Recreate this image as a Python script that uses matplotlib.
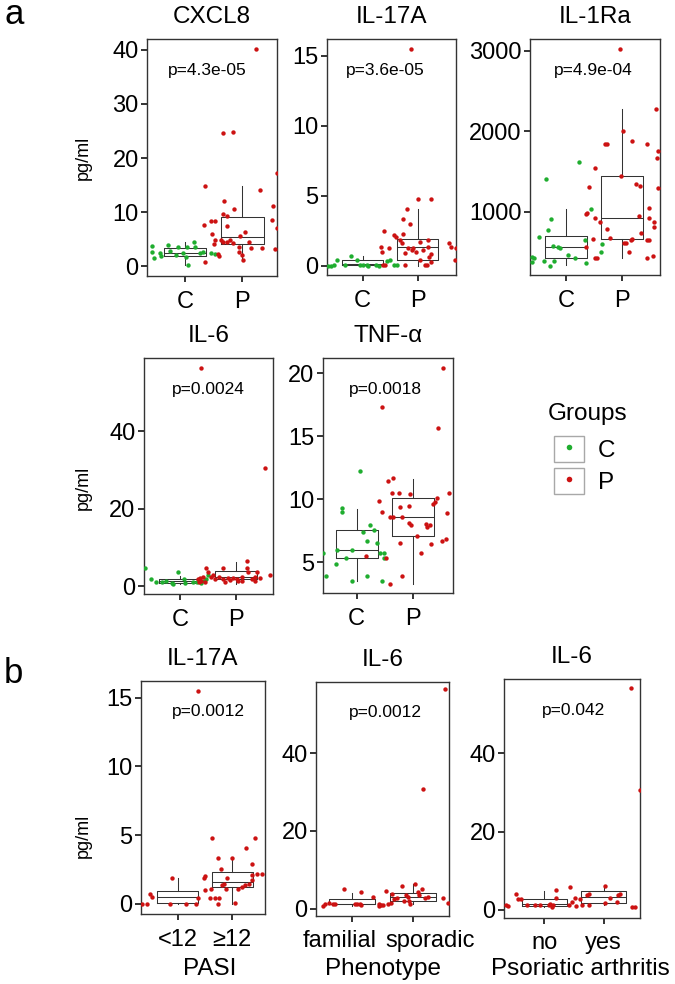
import matplotlib
matplotlib.use("Agg")
import matplotlib.pyplot as plt
from matplotlib.patches import Rectangle
from matplotlib.lines import Line2D
from matplotlib.legend_handler import HandlerTuple
from matplotlib.transforms import ScaledTranslation

plt.rcParams['font.family'] = ['Liberation Sans', 'DejaVu Sans']

GREEN = '#1fad2f'
RED = '#cc1212'
EDGE = '#333333'

# ---- data (x = jittered category position, y = pg/ml) ----
cxcl8_c_x = [0.43, 0.43, 0.46, 0.56, 0.58, 0.71, 0.74, 0.84, 0.88, 1.01, 1.03, 1.06, 1.16, 1.17, 1.32, 1.45, 1.52, 0.97, 1.26]
cxcl8_c_y = [3.76, 2.65, 1.54, 2.46, 1.85, 3.83, 2.83, 1.98, 3.52, 1.72, 3.57, 0.2, 4.5, 3.57, 2.65, 2.46, 2.22, 2.35, 2.35]
cxcl8_p_x = [1.67, 1.84, 2.24, 2.6, 1.35, 2.31, 1.68, 2.54, 1.86, 1.67, 1.74, 1.34, 1.45, 1.52, 1.74, 2.52, 2.61,
             1.47, 1.53, 1.51, 1.63, 1.67, 1.73, 1.79, 1.84, 1.96, 2.05, 1.95, 1.95, 1.99, 2.02, 2.12, 2.16, 2.34,
             2.57, 1.57, 1.6, 1.35]
cxcl8_p_y = [24.6, 24.8, 40.1, 17.2, 14.8, 14.1, 12.1, 11.2, 10.5, 9.6, 9.26, 7.6, 8.3, 8.3, 7.5, 8.5, 7.0,
             5.9, 4.9, 4.0, 4.9, 4.5, 4.5, 4.9, 4.2, 5.55, 6.35, 3.6, 2.65, 2.0, 1.1, 4.5, 3.3, 3.3,
             3.15, 2.2, 1.85, 0.8]
cxcl8_box = [[0.2, 1.85, 2.46, 3.4, 4.5], [0.93, 4.0, 5.3, 9.1, 14.8]]

il17_c_x = [0.37, 0.42, 0.47, 0.53, 0.68, 0.79, 0.9, 0.95, 1.01, 1.07, 1.1, 1.24, 1.3, 1.45, 1.5, 1.56, 1.62]
il17_c_y = [0.0, 0.0, 0.05, 0.41, 0.05, 0.69, 0.41, 0.05, 0.05, 0.05, 0.0, 0.05, 0.0, 0.35, 0.41, 0.05, 0.05]
il17_p_x = [1.87, 1.8, 2.01, 2.25, 1.73, 1.86, 1.39, 1.56, 1.6, 1.74, 1.33, 1.35, 1.48, 1.68, 1.71, 1.83, 1.89,
            1.92, 1.96, 1.77, 2.04, 2.18, 2.1, 2.19, 2.24, 2.04, 2.13, 2.16, 2.25, 2.21, 2.57, 2.6, 2.69, 2.68,
            1.36, 1.4, 1.76]
il17_p_y = [15.48, 4.06, 4.77, 4.77, 3.34, 2.96, 2.48, 2.2, 2.07, 2.24, 1.31, 1.0, 1.29, 1.84, 1.6, 1.24, 1.12,
            1.24, 1.0, 0.89, 1.67, 1.84, 1.12, 1.36, 0.84, 0.41, 0.05, 0.05, 0.29, 0.64, 1.65, 1.31, 1.29, 0.41,
            0.05, 0.05, 0.05]
il17_box = [[0.0, 0.03, 0.1, 0.39, 0.69], [0.0, 0.39, 1.31, 1.91, 4.06]]

il1ra_c_x = [0.39, 0.42, 0.39, 0.64, 0.51, 0.68, 0.73, 0.6, 0.71, 0.79, 0.76, 0.85, 0.89, 1.04, 1.16, 1.24,
             1.35, 1.34, 1.44, 1.64, 1.63]
il1ra_c_y = [441, 430, 379, 1406, 682, 773, 909, 388, 329, 388, 574, 565, 545, 462, 421, 1621,
             359, 648, 1030, 595, 503]
il1ra_p_x = [1.97, 2.02, 2.18, 1.7, 1.74, 2.61, 2.44, 2.65, 2.63, 1.51, 1.98, 1.41, 2.25, 2.32, 2.65, 1.37,
             1.35, 1.52, 1.61, 2.31, 2.49, 2.48, 2.58, 2.58, 1.74, 1.79, 1.49, 2.34, 2.04, 2.07, 2.16, 2.18,
             2.13, 2.44, 2.48, 2.56, 2.44, 1.35, 1.52, 1.55]
il1ra_p_y = [3017, 2002, 1882, 1841, 1841, 2276, 1841, 1758, 1671, 1547, 1447, 1311, 1340, 1319, 1290, 980,
             968, 918, 876, 947, 1050, 925, 876, 814, 781, 670, 657, 739, 615, 607, 648, 657,
             499, 648, 648, 450, 421, 557, 421, 429]
il1ra_box = [[338, 421, 558, 702, 1030], [421, 661, 925, 1447, 2276]]

il6_c_x = [0.36, 0.47, 0.56, 0.68, 0.75, 0.86, 0.87, 0.96, 1.07, 1.08, 1.23, 1.3, 1.38, 1.43, 1.47, 1.5]
il6_c_y = [4.57, 1.73, 0.95, 1.1, 1.2, 0.85, 0.44, 3.7, 1.73, 0.7, 0.95, 1.0, 0.9, 1.29, 1.73, 2.84]
il6_p_x = [1.38, 2.52, 1.32, 1.35, 1.38, 1.34, 1.41, 1.47, 1.5, 1.56, 1.59, 1.62, 1.7, 1.77, 1.76, 1.86,
           1.89, 2.01, 2.04, 2.1, 2.1, 2.19, 2.2, 2.22, 2.28, 2.34, 2.37, 2.34, 2.44, 2.61, 1.45, 1.8, 1.95]
il6_p_y = [56.3, 30.6, 1.73, 2.15, 1.29, 0.95, 2.4, 4.72, 3.7, 2.24, 2.84, 1.73, 2.4, 4.57, 1.81, 1.99,
           1.55, 1.73, 1.29, 2.4, 1.29, 6.45, 4.57, 3.7, 1.73, 1.29, 3.7, 2.4, 1.99, 2.84, 1.0, 1.1, 2.2]
il6_box = [[0.44, 0.8, 1.3, 1.8, 2.5], [0.44, 1.9, 2.3, 3.95, 6.3]]

tnf_c_x = [0.4, 0.46, 0.63, 0.65, 0.73, 0.74, 0.81, 0.91, 0.92, 1.06, 1.12, 1.18, 1.18, 1.24, 1.31, 1.36,
           1.42, 1.48, 1.49, 1.45]
tnf_c_y = [5.76, 3.94, 4.84, 5.98, 9.29, 9.02, 5.32, 3.52, 5.98, 12.27, 7.38, 3.94, 6.69, 7.96, 7.56, 6.51,
           5.76, 5.76, 5.32, 3.52]
tnf_p_x = [2.54, 1.46, 2.45, 1.64, 1.55, 1.63, 1.76, 1.96, 1.39, 1.46, 1.77, 1.94, 2.37, 2.4, 2.43, 2.62,
           2.65, 1.59, 1.65, 1.8, 1.94, 1.97, 2.24, 2.26, 2.31, 2.07, 1.77, 2.14, 2.33, 2.52, 2.6, 1.17,
           1.52, 1.8, 1.59]
tnf_p_y = [20.44, 17.3, 15.63, 11.67, 11.48, 10.52, 10.52, 10.4, 9.89, 9.02, 9.41, 9.49, 9.63, 9.76, 10.13, 8.89,
           10.5, 8.62, 8.62, 8.62, 8.1, 7.96, 8.04, 7.83, 7.96, 7.11, 6.51, 5.76, 6.45, 6.71, 6.85, 5.5,
           5.32, 3.94, 3.28]
tnf_box = [[3.52, 5.32, 5.98, 7.56, 9.23], [3.28, 7.09, 8.62, 10.13, 11.6]]

pasi_lo_x = [0.35, 0.43, 0.49, 0.52, 0.89, 0.85, 1.15, 1.34, 1.38, 1.5, 1.38]
pasi_lo_y = [0.0, 0.0, 0.7, 0.53, 1.91, 0.0, 0.0, 0.0, 0.41, 1.02, 15.47]
pasi_hi_x = [1.48, 1.5, 1.61, 1.59, 1.68, 1.76, 1.74, 1.73, 1.8, 1.88, 1.82, 1.85, 1.9, 2.0, 2.05, 2.11,
             2.17, 2.24, 2.3, 2.36, 2.36, 2.36, 2.46, 2.54, 1.62, 2.42, 2.26]
pasi_hi_y = [1.91, 2.03, 1.07, 0.41, 0.41, 0.41, 0.0, 3.32, 2.54, 1.07, 1.38, 1.45, 1.87, 3.36, 0.05, 1.09,
             1.21, 1.38, 1.45, 2.1, 1.74, 2.9, 2.18, 2.18, 4.82, 4.77, 4.09]
pasi_box = [[0.0, 0.05, 0.49, 0.94, 1.87], [0.0, 1.21, 1.62, 2.35, 3.32]]

fam_x = [0.53, 0.57, 0.62, 0.7, 0.73, 0.88, 1.05, 1.08, 1.15, 1.14, 1.16, 1.35, 1.44, 1.45, 1.48, 1.52]
fam_y = [0.77, 1.13, 1.39, 1.21, 1.21, 5.07, 1.21, 1.21, 4.38, 1.21, 0.95, 3.09, 1.21, 0.69, 0.95, 0.95]
spo_x = [1.57, 1.66, 1.7, 1.74, 1.82, 1.89, 1.92, 1.94, 1.96, 2.03, 2.08, 2.11, 2.16, 2.2, 2.25, 2.5,
         2.58, 2.53, 2.17, 1.6, 1.65, 1.85]
spo_y = [4.56, 3.71, 2.42, 2.83, 5.92, 3.53, 2.93, 1.98, 1.13, 6.28, 4.22, 3.53, 5.07, 2.68, 3.09, 2.83,
         1.39, 56.5, 30.7, 1.2, 1.4, 2.0]
pheno_box = [[0.77, 1.13, 1.29, 2.42, 4.12], [1.13, 2.06, 2.93, 4.12, 6.28]]

psa_no_x = [0.35, 0.38, 0.52, 0.56, 0.61, 0.7, 0.84, 0.93, 1.07, 1.1, 1.13, 1.15, 1.19, 1.19, 1.41, 1.46,
            1.44, 1.51, 1.53]
psa_no_y = [1.28, 1.02, 4.01, 2.73, 2.73, 1.28, 1.28, 1.28, 1.28, 1.46, 0.84, 1.28, 5.11, 2.99, 1.28, 2.12,
            5.8, 2.99, 1.1]
psa_yes_x = [1.6, 1.63, 1.72, 1.75, 1.75, 2.02, 2.03, 2.11, 2.23, 2.25, 2.28, 2.48, 2.54, 2.47, 2.61]
psa_yes_y = [2.81, 1.28, 3.83, 4.01, 1.28, 6.13, 1.86, 2.99, 2.12, 3.83, 4.09, 0.84, 0.84, 56.8, 30.65]
psa_box = [[0.84, 1.1, 1.46, 2.73, 4.85], [1.3, 1.86, 3.24, 4.93, 6.39]]

W, H = 675, 984
fig = plt.figure(figsize=(W / 100, H / 100), dpi=100)


def frame(left, top, right, bottom):
    return [left / W, 1 - bottom / H, (right - left) / W, (bottom - top) / H]


def draw_panel(rect, xlim, ylim, yticks, cats, title, ptext, pfrac, groups, boxes):
    ax = fig.add_axes(frame(*rect))
    stats = [dict(whislo=b[0], q1=b[1], med=b[2], q3=b[3], whishi=b[4], fliers=[]) for b in boxes]
    lp = dict(color=EDGE, lw=0.75)
    ax.bxp(stats, positions=[1, 2], widths=0.75, showfliers=False, showcaps=False,
           boxprops=lp, whiskerprops=lp, medianprops=lp, manage_ticks=False)
    for xs, ys, col in groups:
        ax.scatter(xs, ys, s=10, color=col, linewidths=0, zorder=3)
    ax.set_xlim(*xlim)
    ax.set_ylim(*ylim)
    ax.set_xticks([1, 2])
    ax.set_xticklabels(cats)
    ax.set_yticks(yticks)
    ax.tick_params(direction='out', length=4, width=1.4, color=EDGE, labelsize=17, labelcolor='black')
    ax.tick_params(axis='x', pad=6.5)
    ax.tick_params(axis='y', pad=2)
    for s in ax.spines.values():
        s.set_color(EDGE)
        s.set_linewidth(1.0)
    ax.set_title(title, fontsize=17.5, pad=11.5)
    ax.text(pfrac, 0.869, ptext, transform=ax.transAxes, ha='center', va='center', fontsize=12.5)
    return ax


draw_panel((147, 39.3, 277, 276), (0.337, 2.606), (-1.85, 41.98), [0, 10, 20, 30, 40], ['C', 'P'],
           'CXCL8', 'p=4.3e-05', 0.465,
           [(cxcl8_c_x, cxcl8_c_y, GREEN), (cxcl8_p_x, cxcl8_p_y, RED)], cxcl8_box)
draw_panel((326.7, 39.3, 456, 275.3), (0.345, 2.696), (-0.69, 16.19), [0, 5, 10, 15], ['C', 'P'],
           'IL-17A', 'p=3.6e-05', 0.455,
           [(il17_c_x, il17_c_y, GREEN), (il17_p_x, il17_p_y, RED)], il17_box)
draw_panel((530, 39.3, 660, 275.3), (0.357, 2.679), (210, 3141), [1000, 2000, 3000], ['C', 'P'],
           'IL-1Ra', 'p=4.9e-04', 0.485,
           [(il1ra_c_x, il1ra_c_y, GREEN), (il1ra_p_x, il1ra_p_y, RED)], il1ra_box)
draw_panel((143.7, 358.3, 273.3, 594), (0.343, 2.67), (-2.06, 58.8), [0, 20, 40], ['C', 'P'],
           'IL-6', 'p=0.0024', 0.496,
           [(il6_c_x, il6_c_y, GREEN), (il6_p_x, il6_p_y, RED)], il6_box)
draw_panel((322.7, 358.3, 452.7, 593.3), (0.393, 2.714), (2.54, 21.19), [5, 10, 15, 20], ['C', 'P'],
           'TNF-α', 'p=0.0018', 0.483,
           [(tnf_c_x, tnf_c_y, GREEN), (tnf_p_x, tnf_p_y, RED)], tnf_box)

b1 = draw_panel((140.7, 681, 265, 914), (0.32, 2.6), (-0.73, 16.21), [0, 5, 10, 15], ['<12', '≥12'],
                'IL-17A', 'p=0.0012', 0.544,
                [(pasi_lo_x, pasi_lo_y, RED), (pasi_hi_x, pasi_hi_y, RED)], pasi_box)
b2 = draw_panel((316, 681.7, 449.3, 915.7), (0.415, 2.6), (-1.8, 58.4), [0, 20, 40], ['familial', 'sporadic'],
                'IL-6', 'p=0.0012', 0.52,
                [(fam_x, fam_y, RED), (spo_x, spo_y, RED)], pheno_box)
b3 = draw_panel((504, 679, 640, 917.7), (0.317, 2.617), (-1.97, 58.98), [0, 20, 40], ['no', 'yes'],
                'IL-6', 'p=0.042', 0.509,
                [(psa_no_x, psa_no_y, RED), (psa_yes_x, psa_yes_y, RED)], psa_box)

# the phenotype labels sit spread apart in the original
for lbl, dx in zip(b2.get_xticklabels(), (-12, 17)):
    lbl.set_transform(lbl.get_transform() + ScaledTranslation(dx / 100, 0, fig.dpi_scale_trans))

for ax, lab, fx, fy in [(b1, 'PASI', 0.558, -0.19), (b2, 'Phenotype', 0.5, -0.181),
                        (b3, 'Psoriatic arthritis', 0.559, -0.169)]:
    ax.set_xlabel(lab, fontsize=17.5)
    ax.xaxis.set_label_coords(fx, fy)

# y axis titles and panel letters
for yc in (157.5, 487.5, 835.5):
    fig.text(83 / W, 1 - yc / H, 'pg/ml', rotation=90, ha='center', va='center', fontsize=13)
fig.text(4 / W, 1 - 24 / H, 'a', fontsize=25, va='baseline')
fig.text(4 / W, 1 - 683 / H, 'b', fontsize=25, va='baseline')

# legend
fig.text(548 / W, 1 - 414 / H, 'Groups', fontsize=17.5, ha='left', va='center')
keys = []
for col in (GREEN, RED):
    box = Rectangle((0, 0), 1, 1, facecolor='white', edgecolor='#a8a8a8', linewidth=1.0)
    dot = Line2D([], [], linestyle='none', marker='o', markersize=4, markerfacecolor=col,
                 markeredgewidth=0)
    keys.append((box, dot))
fig.legend(keys, ['C', 'P'], loc='upper left', bbox_to_anchor=(554 / W, 1 - 436 / H),
           frameon=False, fontsize=17.5,
           handler_map={tuple: HandlerTuple(ndivide=1)}, handlelength=1.25, handleheight=1.25,
           labelspacing=0.25, handletextpad=0.55, borderpad=0, borderaxespad=0)

fig.savefig('out.png', dpi=100)
